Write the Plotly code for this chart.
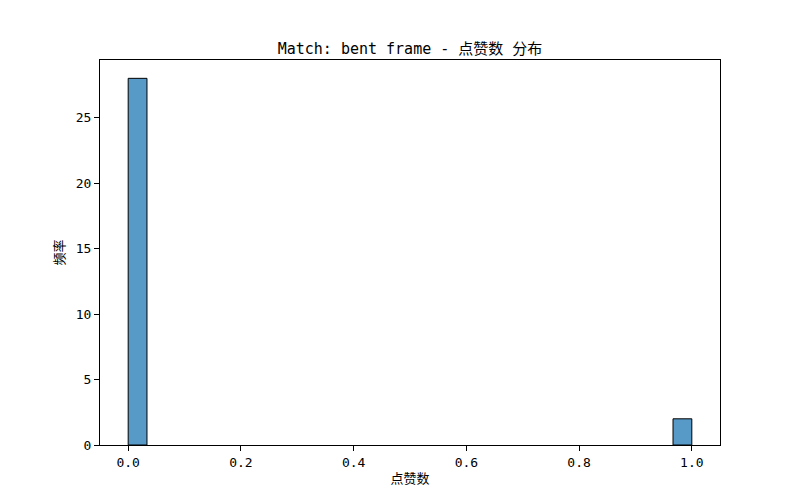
import plotly.graph_objects as go

bin_centers = [1/60, 59/60]
counts = [28, 2]
bin_width = 1/30
x_ticks = [0.0, 0.2, 0.4, 0.6, 0.8, 1.0]
x_ticklabels = ["0.0", "0.2", "0.4", "0.6", "0.8", "1.0"]
y_ticks = [0, 5, 10, 15, 20, 25]

FONT = "DejaVu Sans Mono, Noto Sans CJK SC, sans-serif"

fig = go.Figure(go.Bar(
    x=bin_centers, y=counts, width=[bin_width]*len(counts),
    marker=dict(color="rgba(31,119,180,0.75)", line=dict(color="black", width=1)),
))

fig.update_layout(
    width=800, height=500,
    margin=dict(l=100, r=80, t=60, b=55),
    paper_bgcolor="white", plot_bgcolor="white",
    font=dict(family=FONT, color="black", size=12),
    showlegend=False,
    title=dict(text="Match: bent frame - 点赞数 分布", x=0.5, xref="paper", xanchor="center",
               y=1, yref="paper", yanchor="bottom", pad=dict(b=6),
               font=dict(size=15, family=FONT)),
    xaxis=dict(range=[-0.05, 1.05], tickvals=x_ticks, ticktext=x_ticklabels,
               ticks="outside", ticklen=5, tickcolor="black", showgrid=False,
               zeroline=False, showline=True, linecolor="black", linewidth=1, mirror=True,
               tickfont=dict(size=13),
               title=dict(text="点赞数", standoff=5, font=dict(size=13))),
    yaxis=dict(range=[0, 29.4], tickvals=y_ticks,
               ticks="outside", ticklen=5, tickcolor="black", showgrid=False,
               zeroline=False, showline=True, linecolor="black", linewidth=1, mirror=True,
               tickfont=dict(size=13),
               title=dict(text="频率", standoff=8, font=dict(size=13))),
)

fig.write_html("out.html")
